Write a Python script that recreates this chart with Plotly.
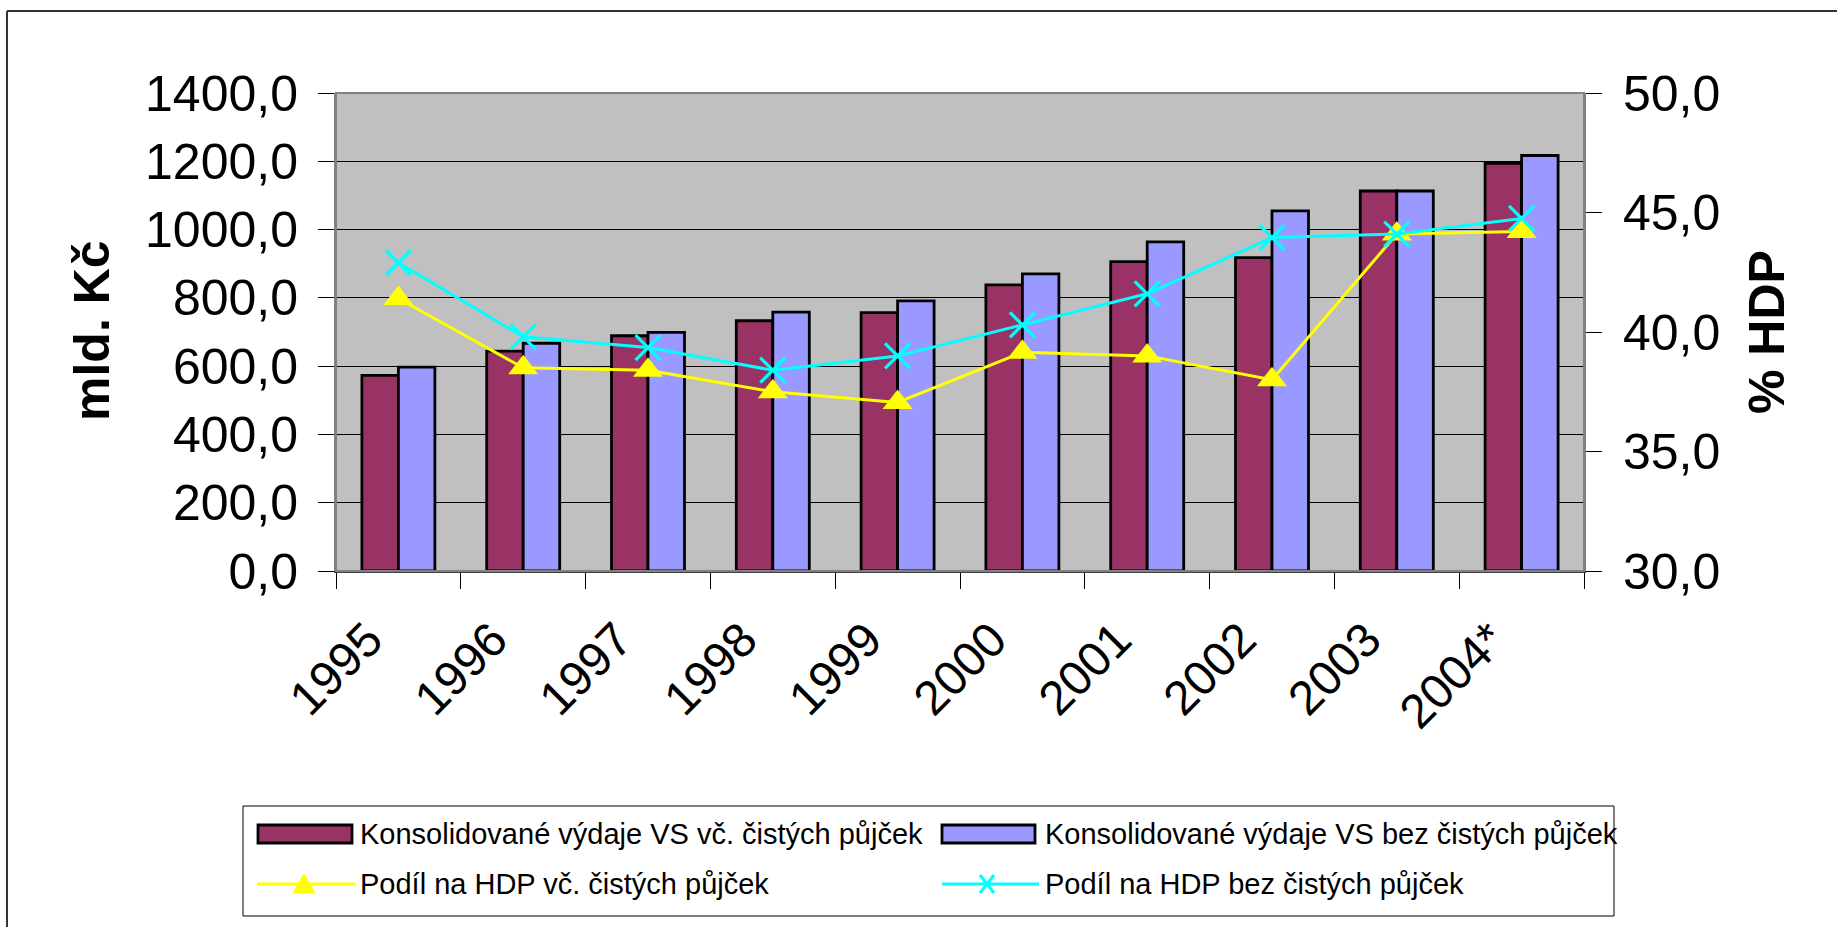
import plotly.graph_objects as go

# ---- data ----
years = ["1995", "1996", "1997", "1998", "1999", "2000", "2001", "2002", "2003", "2004*"]
vydaje_vc = [573, 644, 689, 733, 757, 838, 906, 918, 1113, 1194]      # mld. Kč
vydaje_bez = [597, 667, 699, 758, 791, 870, 964, 1055, 1113, 1217]    # mld. Kč
podil_vc = [41.4, 38.5, 38.4, 37.5, 37.05, 39.15, 39.0, 38.0, 44.1, 44.2]   # % HDP
podil_bez = [42.9, 39.8, 39.35, 38.4, 39.0, 40.3, 41.6, 43.95, 44.1, 44.75]  # % HDP

name_bar1 = "Konsolidované výdaje VS vč. čistých půjček"
name_bar2 = "Konsolidované výdaje VS bez čistých půjček"
name_line1 = "Podíl na HDP vč. čistých půjček"
name_line2 = "Podíl na HDP bez čistých půjček"
left_title = "mld. Kč"
right_title = "% HDP"

# ---- geometry (pixels) ----
W, H = 1837, 927
L, R, T, B = 336, 1584, 93, 571


def px(x):
    return (x - L) / (R - L)


def py(y):
    return (B - y) / (B - T)


FONT = "Liberation Sans, Arial, sans-serif"
C_BAR1 = "#993366"
C_BAR2 = "#9999FF"
C_L1 = "#FFFF00"
C_L2 = "#00FFFF"

fig = go.Figure()
fig.add_bar(x=years, y=vydaje_vc, name=name_bar1,
            marker=dict(color=C_BAR1, line=dict(color="black", width=2.8)))
fig.add_bar(x=years, y=vydaje_bez, name=name_bar2,
            marker=dict(color=C_BAR2, line=dict(color="black", width=2.8)))
fig.add_scatter(x=years, y=podil_vc, name=name_line1, yaxis="y2", mode="lines+markers",
                line=dict(color=C_L1, width=3),
                marker=dict(symbol="triangle-up", size=26, color=C_L1))
fig.add_scatter(x=years, y=podil_bez, name=name_line2, yaxis="y2", mode="lines+markers",
                line=dict(color=C_L2, width=3),
                marker=dict(symbol="x-thin", size=25, color=C_L2,
                            line=dict(color=C_L2, width=3.2)))

fig.update_layout(
    width=W, height=H, autosize=False,
    margin=dict(l=L, r=W - R, t=T, b=H - B, pad=0),
    paper_bgcolor="white", plot_bgcolor="#C0C0C0",
    barmode="group", bargap=0.415, bargroupgap=0,
    separators=", ",
    showlegend=False,
    font=dict(family=FONT, color="black"),
    xaxis=dict(type="category", range=[-0.5, 9.5], tickson="boundaries",
               ticks="outside", ticklen=16, tickwidth=1, tickcolor="black",
               tickangle=-45, tickfont=dict(size=48, family=FONT),
               ticklabelstandoff=19, ticklabelshift=-30,
               showline=True, linecolor="#404040", linewidth=2,
               showgrid=False, zeroline=False),
    yaxis=dict(range=[0, 1400], dtick=200, tickformat=".1f",
               ticks="outside", ticklen=16, tickwidth=1, tickcolor="black",
               tickfont=dict(size=50, family=FONT), ticklabelstandoff=10,
               showgrid=True, gridcolor="black", gridwidth=1,
               showline=True, linecolor="#808080", linewidth=2, zeroline=False),
    yaxis2=dict(overlaying="y", side="right", range=[30, 50], dtick=5, tickformat=".1f",
                ticks="outside", ticklen=16, tickwidth=1, tickcolor="black",
                tickfont=dict(size=50, family=FONT), ticklabelstandoff=11,
                showgrid=False, showline=True, linecolor="#808080", linewidth=2,
                zeroline=False),
    yaxis3=dict(overlaying="y", range=[0, 1400], dtick=200, ticks="inside", ticklen=14,
                tickwidth=1, tickcolor="black", showticklabels=False,
                showgrid=False, zeroline=False),
    yaxis4=dict(overlaying="y", side="right", range=[30, 50], dtick=5, ticks="inside",
                ticklen=15, tickwidth=1, tickcolor="black", showticklabels=False,
                showgrid=False, zeroline=False),
    xaxis2=dict(overlaying="x", anchor="y", range=[-0.5, 9.5],
                tickmode="array", tickvals=[i - 0.5 for i in range(len(years) + 1)],
                ticks="inside", ticklen=16, tickwidth=1, tickcolor="black",
                showticklabels=False, showgrid=False, zeroline=False),
)

shapes = []
# plot-area border
shapes.append(dict(type="rect", xref="paper", yref="paper", x0=0, x1=1, y0=0, y1=1,
                   line=dict(color="#808080", width=2)))
# outer chart frame (top and left edges visible)
shapes.append(dict(type="line", xref="paper", yref="paper",
                   x0=px(7), x1=px(W), y0=py(11), y1=py(11),
                   line=dict(color="#333333", width=2)))
shapes.append(dict(type="line", xref="paper", yref="paper",
                   x0=px(7), x1=px(7), y0=py(11), y1=py(H),
                   line=dict(color="#333333", width=2)))
# legend box
shapes.append(dict(type="rect", xref="paper", yref="paper",
                   x0=px(243), x1=px(1614), y0=py(806), y1=py(916),
                   line=dict(color="black", width=1), fillcolor="white"))
# legend swatches
shapes.append(dict(type="rect", xref="paper", yref="paper",
                   x0=px(258), x1=px(352), y0=py(825), y1=py(843),
                   line=dict(color="black", width=2.8), fillcolor=C_BAR1))
shapes.append(dict(type="rect", xref="paper", yref="paper",
                   x0=px(942), x1=px(1035), y0=py(825), y1=py(843),
                   line=dict(color="black", width=2.8), fillcolor=C_BAR2))
shapes.append(dict(type="line", xref="paper", yref="paper",
                   x0=px(257), x1=px(355), y0=py(884), y1=py(884),
                   line=dict(color=C_L1, width=3)))
tri = "M {:.5f} {:.5f} L {:.5f} {:.5f} L {:.5f} {:.5f} Z".format(
    px(293), py(893), px(315), py(893), px(304), py(874))
shapes.append(dict(type="path", xref="paper", yref="paper", path=tri,
                   line=dict(color=C_L1, width=1), fillcolor=C_L1))
shapes.append(dict(type="line", xref="paper", yref="paper",
                   x0=px(942), x1=px(1039), y0=py(884), y1=py(884),
                   line=dict(color=C_L2, width=3)))
shapes.append(dict(type="line", xref="paper", yref="paper",
                   x0=px(980), x1=px(994), y0=py(875), y1=py(893),
                   line=dict(color=C_L2, width=3)))
shapes.append(dict(type="line", xref="paper", yref="paper",
                   x0=px(980), x1=px(994), y0=py(893), y1=py(875),
                   line=dict(color=C_L2, width=3)))

annotations = []
for text, x, y in [(name_bar1, 358, 834), (name_bar2, 1043, 834),
                   (name_line1, 358, 884), (name_line2, 1043, 884)]:
    annotations.append(dict(text=text, xref="paper", yref="paper", x=px(x), y=py(y),
                            xanchor="left", yanchor="middle", showarrow=False,
                            font=dict(size=29, family=FONT, color="black")))
annotations.append(dict(text="<b>" + left_title + "</b>", xref="paper", yref="paper",
                        x=px(92), y=py(331), xanchor="center", yanchor="middle",
                        textangle=-90, showarrow=False,
                        font=dict(size=50, family=FONT, color="black")))
annotations.append(dict(text="<b>" + right_title + "</b>", xref="paper", yref="paper",
                        x=px(1767), y=py(332), xanchor="center", yanchor="middle",
                        textangle=-90, showarrow=False,
                        font=dict(size=50, family=FONT, color="black")))

fig.update_layout(shapes=shapes, annotations=annotations)

fig.write_html("out.html", config={"displayModeBar": False},
               post_script="document.body.style.margin='0';document.body.style.overflow='hidden';")
